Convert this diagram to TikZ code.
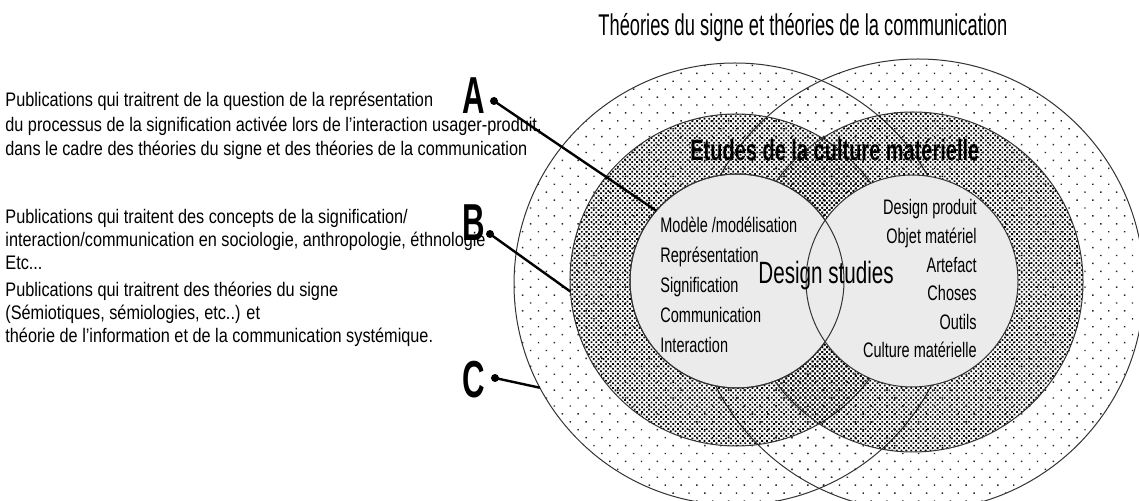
\documentclass[tikz,border=0pt]{standalone}
\usepackage{fontspec}
\setmainfont{Liberation Sans}
\newfontfamily\bodyfont[FakeStretch=0.83]{Liberation Sans}
\newfontfamily\listfont[FakeStretch=0.69]{Liberation Sans}
\newfontfamily\headfont[FakeStretch=0.61]{Liberation Sans}
\newfontfamily\studyfont[FakeStretch=0.67]{Liberation Sans}
\newfontfamily\etudefont[FakeStretch=0.68]{Liberation Sans}
\newfontfamily\letterfont[FakeStretch=0.6]{Liberation Sans}
\usetikzlibrary{patterns.meta}

\tikzset{
	ring/.style={circle, inner sep=0pt, outer sep=0pt, draw=black!80, line width=0.5pt},
	sparse/.style={ring, pattern={Dots[distance=5.6pt, angle=45, radius=0.5pt]}, pattern color=black!85},
	dense/.style={ring, pattern={Dots[distance=1.7pt, angle=45, radius=0.64pt]}, pattern color=black},
	core/.style={ring, fill=black!8},
	edge/.style={ring},
	body/.style={anchor=base west, inner sep=0pt, align=left, font=\bodyfont\fontsize{9.8}{11.5}\selectfont},
	item/.style={inner sep=0pt, font=\listfont\fontsize{10.5}{15}\selectfont},
	letter/.style={anchor=base west, inner sep=0pt, font=\letterfont\bfseries\fontsize{26}{26}\selectfont},
	pin/.style={circle, fill=black, inner sep=0pt, minimum size=4pt},
	link/.style={line width=1.2pt},
}

\begin{document}
\begin{tikzpicture}[x=0.5pt, y=-0.5pt]
	\useasboundingbox (0,0) rectangle (1139,501);
	% the three rings of each field
	\node[sparse, minimum size=221pt] (outerL) at (735,284) {};
	\node[sparse, minimum size=226pt] (outerR) at (918,285) {};
	\node[dense, minimum size=166pt] (midL) at (736,280) {};
	\node[dense, minimum size=170pt] (midR) at (913,282) {};
	\node[core, minimum size=107pt] (innerL) at (737,281) {};
	\node[core, minimum size=106pt] (innerR) at (912,281) {};
	\node[edge, minimum size=107pt] (innerLedge) at (innerL) {};

	\node[anchor=base west, inner sep=0pt, font=\headfont\fontsize{15}{15}\selectfont] (title) at (598,36) {Théories du signe et théories de la communication};
	\node[anchor=base west, inner sep=0pt, font=\etudefont\bfseries\fontsize{14.7}{15}\selectfont] (etudes) at (690,161) {Etudes de la culture matérielle};
	\node[item, anchor=base west, align=left] (listL) at (660,353) {Modèle /modélisation\\Représentation\\Signification\\Communication\\Interaction};
	\node[item, anchor=base east, align=right, font=\listfont\fontsize{10.5}{14.3}\selectfont] (listR) at (977,358) {Design produit\\Objet matériel\\Artefact\\Choses\\Outils\\Culture matérielle};
	\node[anchor=base west, inner sep=0pt, font=\studyfont\fontsize{15.4}{16}\selectfont] (studies) at (758,284) {Design studies};

	% texts on the left (anchored on their last line)
	\node[body, font=\bodyfont\fontsize{9.8}{12.25}\selectfont] (textA) at (5,156) {Publications qui traitrent de la question de la représentation\\du processus de la signification activée lors de l’interaction usager-produit,\\dans le cadre des théories du signe  et des théories de la communication};
	\node[body] (textB) at (5,270) {Publications qui traitent  des  concepts de la signification/\\interaction/communication en  sociologie, anthropologie, éthnologie\\Etc...};
	\node[body] (textC) at (5,343) {Publications qui traitrent des théories du signe\\(Sémiotiques, sémiologies, etc..) et\\théorie de l’information et de la communication systémique.};

	% letters and pointers
	\node[letter] (A) at (462,114) {A};
	\node[letter] (B) at (462,241) {B};
	\node[letter] (C) at (462,398) {C};
	\node[pin] (pinA) at (494,101) {};
	\node[pin] (pinB) at (490,234) {};
	\node[pin] (pinC) at (495,378) {};
	\draw[link] (pinA.center) -- (innerL.139);
	\draw[link] (pinB.center) -- (midL.184);
	\draw[link] (pinC.center) -- (outerL.208);
\end{tikzpicture}
\end{document}
